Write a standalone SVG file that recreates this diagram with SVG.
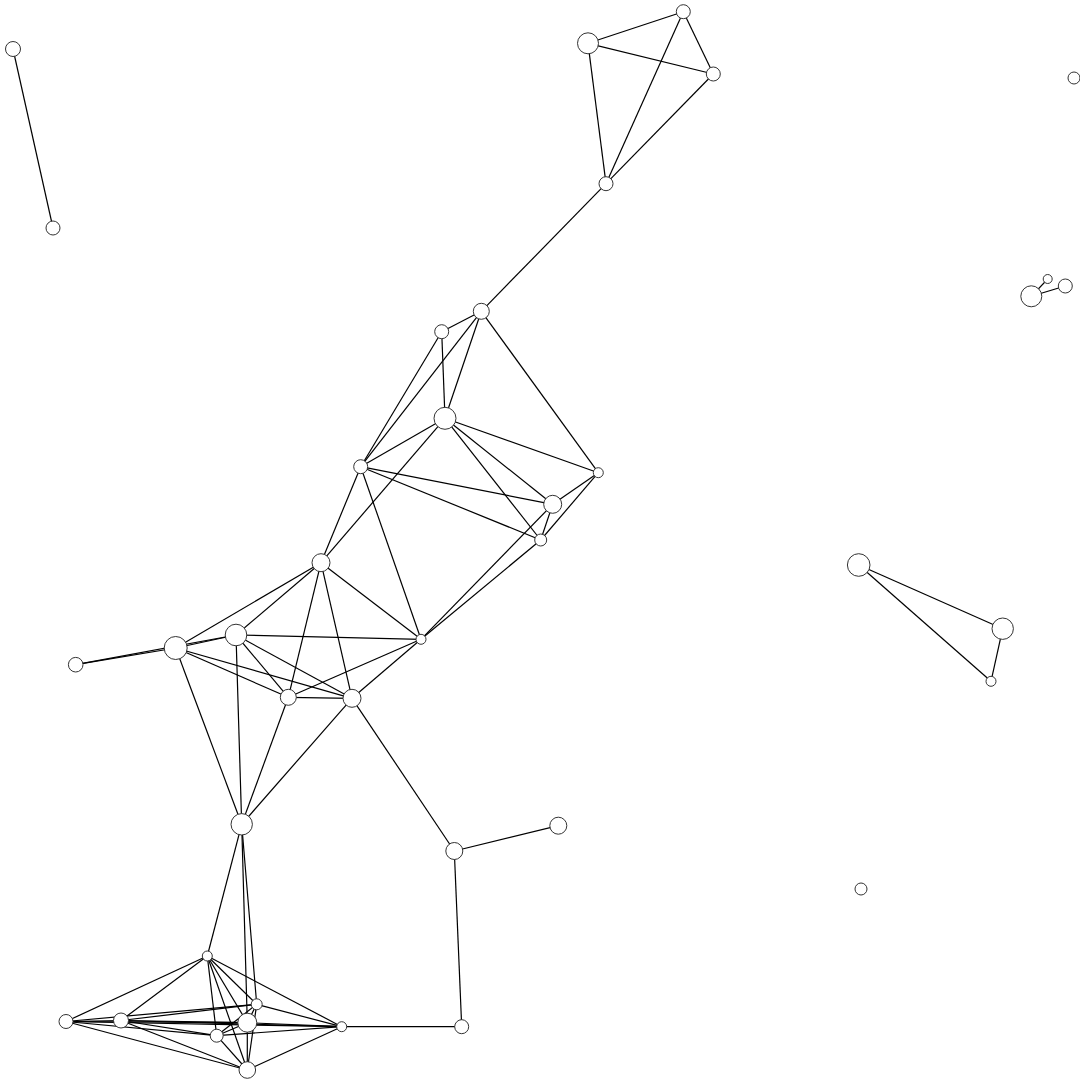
<svg xmlns="http://www.w3.org/2000/svg" width="1080" height="1080" viewBox="0 0 1080 1080">
<style>
.e line{stroke:#000;stroke-width:1.2;}
.n circle{fill:#fff;stroke:#333;stroke-width:1;}
</style>
<rect width="1080" height="1080" fill="#fff"/>
<g id="edges" class="e">
<line x1="13" y1="49" x2="53" y2="228"/>
<line x1="588" y1="43.3" x2="683.3" y2="11.7"/>
<line x1="588" y1="43.3" x2="713.3" y2="74"/>
<line x1="588" y1="43.3" x2="606" y2="183.7"/>
<line x1="683.3" y1="11.7" x2="713.3" y2="74"/>
<line x1="683.3" y1="11.7" x2="606" y2="183.7"/>
<line x1="713.3" y1="74" x2="606" y2="183.7"/>
<line x1="606" y1="183.7" x2="481.3" y2="311.3"/>
<line x1="1047.7" y1="279" x2="1031.3" y2="296.3"/>
<line x1="1065.3" y1="286" x2="1031.3" y2="296.3"/>
<line x1="481.3" y1="311.3" x2="441.7" y2="331.7"/>
<line x1="481.3" y1="311.3" x2="360.7" y2="466.7"/>
<line x1="481.3" y1="311.3" x2="445" y2="418.3"/>
<line x1="481.3" y1="311.3" x2="598.3" y2="472.7"/>
<line x1="441.7" y1="331.7" x2="360.7" y2="466.7"/>
<line x1="441.7" y1="331.7" x2="445" y2="418.3"/>
<line x1="445" y1="418.3" x2="360.7" y2="466.7"/>
<line x1="445" y1="418.3" x2="552.7" y2="504.3"/>
<line x1="445" y1="418.3" x2="540.7" y2="540"/>
<line x1="445" y1="418.3" x2="598.3" y2="472.7"/>
<line x1="445" y1="418.3" x2="321" y2="562.7"/>
<line x1="360.7" y1="466.7" x2="552.7" y2="504.3"/>
<line x1="360.7" y1="466.7" x2="540.7" y2="540"/>
<line x1="360.7" y1="466.7" x2="321" y2="562.7"/>
<line x1="360.7" y1="466.7" x2="421" y2="639.3"/>
<line x1="598.3" y1="472.7" x2="552.7" y2="504.3"/>
<line x1="598.3" y1="472.7" x2="540.7" y2="540"/>
<line x1="552.7" y1="504.3" x2="540.7" y2="540"/>
<line x1="552.7" y1="504.3" x2="421" y2="639.3"/>
<line x1="540.7" y1="540" x2="421" y2="639.3"/>
<line x1="321" y1="562.7" x2="175.7" y2="648"/>
<line x1="321" y1="562.7" x2="236" y2="635"/>
<line x1="321" y1="562.7" x2="288.3" y2="697.3"/>
<line x1="321" y1="562.7" x2="352" y2="698.3"/>
<line x1="321" y1="562.7" x2="421" y2="639.3"/>
<line x1="75.7" y1="664.7" x2="175.7" y2="648"/>
<line x1="75.7" y1="664.7" x2="236" y2="635"/>
<line x1="175.7" y1="648" x2="236" y2="635"/>
<line x1="175.7" y1="648" x2="288.3" y2="697.3"/>
<line x1="175.7" y1="648" x2="352" y2="698.3"/>
<line x1="175.7" y1="648" x2="241.7" y2="824.3"/>
<line x1="236" y1="635" x2="421" y2="639.3"/>
<line x1="236" y1="635" x2="288.3" y2="697.3"/>
<line x1="236" y1="635" x2="352" y2="698.3"/>
<line x1="236" y1="635" x2="241.7" y2="824.3"/>
<line x1="421" y1="639.3" x2="288.3" y2="697.3"/>
<line x1="421" y1="639.3" x2="352" y2="698.3"/>
<line x1="288.3" y1="697.3" x2="352" y2="698.3"/>
<line x1="288.3" y1="697.3" x2="241.7" y2="824.3"/>
<line x1="352" y1="698.3" x2="241.7" y2="824.3"/>
<line x1="352" y1="698.3" x2="454.3" y2="851"/>
<line x1="454.3" y1="851" x2="558.3" y2="825.7"/>
<line x1="454.3" y1="851" x2="461.7" y2="1026.7"/>
<line x1="858.7" y1="565" x2="1002.7" y2="628.7"/>
<line x1="858.7" y1="565" x2="991" y2="681.3"/>
<line x1="1002.7" y1="628.7" x2="991" y2="681.3"/>
<line x1="241.7" y1="824.3" x2="207.3" y2="956"/>
<line x1="241.7" y1="824.3" x2="256.7" y2="1004.3"/>
<line x1="241.7" y1="824.3" x2="247.3" y2="1022.7"/>
<line x1="207.3" y1="956" x2="66" y2="1021.5"/>
<line x1="207.3" y1="956" x2="121" y2="1020.5"/>
<line x1="207.3" y1="956" x2="216.7" y2="1035.7"/>
<line x1="207.3" y1="956" x2="247.3" y2="1070"/>
<line x1="207.3" y1="956" x2="247.3" y2="1022.7"/>
<line x1="207.3" y1="956" x2="256.7" y2="1004.3"/>
<line x1="207.3" y1="956" x2="341.7" y2="1026.7"/>
<line x1="66" y1="1021.5" x2="121" y2="1020.5"/>
<line x1="66" y1="1021.5" x2="256.7" y2="1004.3"/>
<line x1="66" y1="1021.5" x2="247.3" y2="1022.7"/>
<line x1="66" y1="1021.5" x2="216.7" y2="1035.7"/>
<line x1="66" y1="1021.5" x2="341.7" y2="1026.7"/>
<line x1="66" y1="1021.5" x2="247.3" y2="1070"/>
<line x1="121" y1="1020.5" x2="256.7" y2="1004.3"/>
<line x1="121" y1="1020.5" x2="247.3" y2="1022.7"/>
<line x1="121" y1="1020.5" x2="216.7" y2="1035.7"/>
<line x1="121" y1="1020.5" x2="341.7" y2="1026.7"/>
<line x1="121" y1="1020.5" x2="247.3" y2="1070"/>
<line x1="256.7" y1="1004.3" x2="247.3" y2="1022.7"/>
<line x1="256.7" y1="1004.3" x2="216.7" y2="1035.7"/>
<line x1="256.7" y1="1004.3" x2="341.7" y2="1026.7"/>
<line x1="256.7" y1="1004.3" x2="247.3" y2="1070"/>
<line x1="247.3" y1="1022.7" x2="216.7" y2="1035.7"/>
<line x1="247.3" y1="1022.7" x2="341.7" y2="1026.7"/>
<line x1="247.3" y1="1022.7" x2="247.3" y2="1070"/>
<line x1="216.7" y1="1035.7" x2="341.7" y2="1026.7"/>
<line x1="216.7" y1="1035.7" x2="247.3" y2="1070"/>
<line x1="341.7" y1="1026.7" x2="247.3" y2="1070"/>
<line x1="341.7" y1="1026.7" x2="461.7" y2="1026.7"/>
</g>
<g id="nodes" class="n">
<g id="n0"><circle cx="13" cy="49" r="7.5"/></g>
<g id="n1"><circle cx="53" cy="228" r="7"/></g>
<g id="n2"><circle cx="588" cy="43.3" r="10.5"/></g>
<g id="n3"><circle cx="683.3" cy="11.7" r="7"/></g>
<g id="n4"><circle cx="713.3" cy="74" r="7"/></g>
<g id="n5"><circle cx="606" cy="183.7" r="7"/></g>
<g id="n6"><circle cx="1074" cy="78" r="6"/></g>
<g id="n7"><circle cx="1047.7" cy="279" r="4.5"/></g>
<g id="n8"><circle cx="1065.3" cy="286" r="7"/></g>
<g id="n9"><circle cx="1031.3" cy="296.3" r="10.5"/></g>
<g id="n10"><circle cx="481.3" cy="311.3" r="8"/></g>
<g id="n11"><circle cx="441.7" cy="331.7" r="7"/></g>
<g id="n12"><circle cx="445" cy="418.3" r="11"/></g>
<g id="n13"><circle cx="360.7" cy="466.7" r="7"/></g>
<g id="n14"><circle cx="598.3" cy="472.7" r="5"/></g>
<g id="n15"><circle cx="552.7" cy="504.3" r="9"/></g>
<g id="n16"><circle cx="540.7" cy="540" r="6"/></g>
<g id="n17"><circle cx="321" cy="562.7" r="9"/></g>
<g id="n18"><circle cx="421" cy="639.3" r="5"/></g>
<g id="n19"><circle cx="175.7" cy="648" r="11.5"/></g>
<g id="n20"><circle cx="236" cy="635" r="10.8"/></g>
<g id="n21"><circle cx="75.7" cy="664.7" r="7.3"/></g>
<g id="n22"><circle cx="288.3" cy="697.3" r="8"/></g>
<g id="n23"><circle cx="352" cy="698.3" r="9"/></g>
<g id="n24"><circle cx="241.7" cy="824.3" r="10.7"/></g>
<g id="n25"><circle cx="454.3" cy="851" r="8.5"/></g>
<g id="n26"><circle cx="558.3" cy="825.7" r="8.5"/></g>
<g id="n27"><circle cx="858.7" cy="565" r="11.3"/></g>
<g id="n28"><circle cx="1002.7" cy="628.7" r="10.7"/></g>
<g id="n29"><circle cx="991" cy="681.3" r="5"/></g>
<g id="n30"><circle cx="861" cy="889" r="6"/></g>
<g id="n31"><circle cx="207.3" cy="956" r="5"/></g>
<g id="n32"><circle cx="66" cy="1021.5" r="7"/></g>
<g id="n33"><circle cx="121" cy="1020.5" r="7.5"/></g>
<g id="n34"><circle cx="256.7" cy="1004.3" r="5.5"/></g>
<g id="n35"><circle cx="247.3" cy="1022.7" r="9.5"/></g>
<g id="n36"><circle cx="216.7" cy="1035.7" r="6.5"/></g>
<g id="n37"><circle cx="341.7" cy="1026.7" r="5"/></g>
<g id="n38"><circle cx="461.7" cy="1026.7" r="7"/></g>
<g id="n39"><circle cx="247.3" cy="1070" r="8.3"/></g>
</g>
</svg>
